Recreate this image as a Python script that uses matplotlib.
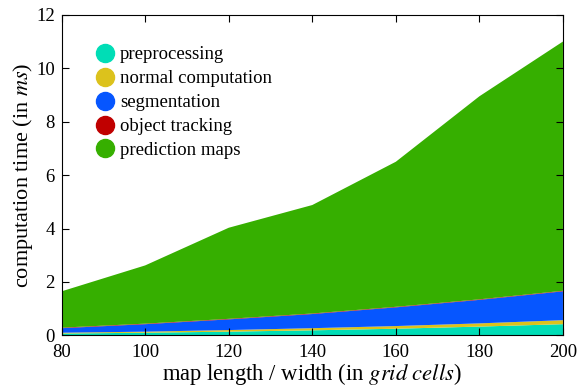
import numpy as np
import matplotlib.pyplot as plt
from matplotlib.lines import Line2D

plt.rcParams['font.family'] = ['Liberation Serif', 'DejaVu Serif']
plt.rcParams['mathtext.fontset'] = 'stix'

# map size (grid cells)
sizes = [80, 100, 120, 140, 160, 180, 200]

# computation time per stage (ms)
preprocessing = [0.07, 0.10, 0.14, 0.19, 0.25, 0.33, 0.42]
normal_comp = [0.03, 0.04, 0.06, 0.08, 0.10, 0.12, 0.15]
segmentation = [0.17, 0.28, 0.40, 0.53, 0.70, 0.88, 1.08]
object_tracking = [0.02, 0.02, 0.02, 0.02, 0.02, 0.02, 0.02]
prediction_maps = [1.36, 2.18, 3.41, 4.06, 5.43, 7.60, 9.33]

labels = ['preprocessing', 'normal computation', 'segmentation',
          'object tracking', 'prediction maps']
colors = ['#00DDB6', '#DCC21C', '#0656FF', '#C00000', '#36AF00']

fig = plt.figure(figsize=(5.87, 3.9), dpi=100)
ax = fig.add_axes([0.105, 0.14, 0.854, 0.822])

ax.stackplot(sizes, preprocessing, normal_comp, segmentation, object_tracking,
             prediction_maps, colors=colors, linewidth=0)

ax.set_xlim(80, 200)
ax.set_ylim(0, 12)
ax.set_xticks(range(80, 201, 20))
ax.set_yticks(range(0, 13, 2))
ax.tick_params(direction='in', top=True, right=True, labelsize=13.5, length=5)
ax.tick_params(axis='x', pad=6)
ax.tick_params(axis='y', pad=5)
ax.set_xlabel('map length / width (in $\\it{grid\\ cells}$)', fontsize=16.3, labelpad=0)
ax.set_ylabel('computation time (in $\\it{ms}$)', fontsize=16, labelpad=1)

handles = [Line2D([], [], marker='o', linestyle='none', markersize=13,
                  markerfacecolor=c, markeredgecolor=c) for c in colors]
ax.legend(handles, labels, loc='upper left', bbox_to_anchor=(0.052, 0.925),
          frameon=False, fontsize=13.5, handletextpad=0.33, labelspacing=0.36,
          handlelength=1.0, borderaxespad=0)

fig.savefig('out.png', dpi=100)
